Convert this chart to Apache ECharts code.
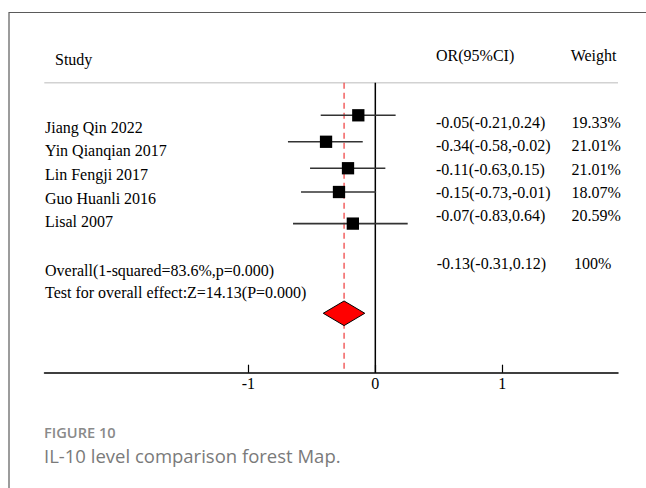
<!DOCTYPE html>
<html>
<head>
<meta charset="utf-8">
<script src="https://cdn.jsdelivr.net/npm/echarts@6/dist/echarts.min.js"></script>
<style>
html,body{margin:0;padding:0;background:#fff;}
#c{width:646px;height:488px;}
</style>
</head>
<body>
<div id="c"></div>
<script>
// ---- data ----
var studies = ['Jiang Qin 2022', 'Yin Qianqian 2017', 'Lin Fengji 2017', 'Guo Huanli 2016', 'Lisal 2007'];
var orTexts = ['-0.05(-0.21,0.24)', '-0.34(-0.58,-0.02)', '-0.11(-0.63,0.15)', '-0.15(-0.73,-0.01)', '-0.07(-0.83,0.64)'];
var weights = ['19.33%', '21.01%', '21.01%', '18.07%', '20.59%'];
// plotted positions
var estimates = [-0.134, -0.388, -0.215, -0.286, -0.177];
var ciLow = [-0.43, -0.688, -0.514, -0.585, -0.648];
var ciHigh = [0.16, -0.099, 0.079, 0.006, 0.255];
var overallEst = -0.246, overallLow = -0.41, overallHigh = -0.083;
var overallText = 'Overall(1-squared=83.6%,p=0.000)';
var testText = 'Test for overall effect:Z=14.13(P=0.000)';
var overallOR = '-0.13(-0.31,0.12)';
var overallWeight = '100%';
var xTicks = [-1, 0, 1];
var headers = ['Study', 'OR(95%CI)', 'Weight'];
var figLabel = 'FIGURE 10';
var caption = 'IL-10 level comparison forest Map.';

// ---- layout ----
var rowPos = [1, 1.98, 2.96, 3.84, 5.01];
var diamondRow = 8.33;
var yMin = -0.207, yMax = 10.53;
var serif = 'Liberation Serif, "Times New Roman", serif';

var chart = echarts.init(document.getElementById('c'), null, {renderer: 'svg'});

var studyData = studies.map(function (s, i) { return [estimates[i], rowPos[i], ciLow[i], ciHigh[i]]; });

var graphics = [];
function txt(t, x, y, opt) {
  opt = opt || {};
  graphics.push({
    type: 'text', silent: true,
    style: {
      text: t, x: x, y: y,
      fill: opt.fill || '#000',
      font: opt.font || ('16px ' + serif),
      textAlign: 'left', textVerticalAlign: 'middle'
    }
  });
}
// frame
graphics.push({type: 'line', shape: {x1: 9, y1: 12.5, x2: 646, y2: 12.5}, style: {stroke: '#5a5a5a', lineWidth: 1.2}});
graphics.push({type: 'line', shape: {x1: 9, y1: 12, x2: 9, y2: 488}, style: {stroke: '#5a5a5a', lineWidth: 1.2}});
// header rule
graphics.push({type: 'line', shape: {x1: 44.3, y1: 82.7, x2: 618, y2: 82.7}, style: {stroke: '#d2d2d2', lineWidth: 1.5}});
txt(headers[0], 55, 59);
txt(headers[1], 436, 55);
txt(headers[2], 570.7, 55);
studies.forEach(function (s, i) {
  txt(s, 45, 127.3 + i * 23.6);
  txt(orTexts[i], 436, 122.3 + i * 23.4);
  txt(weights[i], 571.5, 122.3 + i * 23.4);
});
txt(overallText, 45, 270.7);
txt(testText, 45, 292.7);
txt(overallOR, 436.7, 263.3);
txt(overallWeight, 574, 263.3);
txt(figLabel, 44, 431.7, {font: '600 14.6px "Open Sans", sans-serif', fill: '#8a8a8a'});
txt(caption, 44, 455, {font: '18.5px "Open Sans", sans-serif', fill: '#7a7a7a'});

function vline(api, x, color, dash, width) {
  var a = api.coord([x, yMin]);
  var b = api.coord([x, yMax]);
  return {type: 'line', shape: {x1: a[0], y1: a[1], x2: b[0], y2: b[1]},
          style: {stroke: color, lineWidth: width, lineDash: dash}};
}

var option = {
  animation: false,
  grid: {left: 44.5, right: 28, top: 82.7, bottom: 115.3},
  xAxis: {
    type: 'value', min: -2.605, max: 1.911, position: 'bottom',
    splitLine: {show: false},
    axisLine: {show: true, onZero: false, lineStyle: {color: '#000', width: 1.5}},
    axisTick: {show: true, inside: true, length: 8, customValues: xTicks, lineStyle: {color: '#000', width: 1.2}},
    axisLabel: {show: true, customValues: xTicks, margin: 3, color: '#000', fontFamily: serif, fontSize: 16}
  },
  yAxis: {
    type: 'value', min: yMin, max: yMax, inverse: true, show: false
  },
  graphic: graphics,
  series: [
    {
      // reference lines: null line and overall estimate
      type: 'custom',
      data: [[0, overallEst]],
      z: 3,
      renderItem: function (params, api) {
        return {
          type: 'group',
          children: [
            vline(api, api.value(0), '#000', null, 1.5),
            vline(api, api.value(1), '#f04848', [6, 4], 1.3)
          ]
        };
      }
    },
    {
      type: 'custom',
      data: studyData,
      z: 5,
      renderItem: function (params, api) {
        var y = api.value(1);
        var c = api.coord([api.value(0), y]);
        var l = api.coord([api.value(2), y]);
        var h = api.coord([api.value(3), y]);
        var sz = 12.3;
        return {
          type: 'group',
          children: [
            {type: 'line', shape: {x1: l[0], y1: c[1], x2: h[0], y2: c[1]}, style: {stroke: '#333', lineWidth: 1.6}},
            {type: 'rect', shape: {x: c[0] - sz / 2, y: c[1] - sz / 2, width: sz, height: sz}, style: {fill: '#000'}}
          ]
        };
      }
    },
    {
      type: 'custom',
      data: [[overallEst, diamondRow, overallLow, overallHigh]],
      z: 6,
      renderItem: function (params, api) {
        var y = api.value(1);
        var c = api.coord([api.value(0), y]);
        var l = api.coord([api.value(2), y]);
        var h = api.coord([api.value(3), y]);
        var hh = 12.3;
        return {
          type: 'polygon',
          shape: {points: [[l[0], c[1]], [c[0], c[1] - hh], [h[0], c[1]], [c[0], c[1] + hh]]},
          style: {fill: '#ff0000', stroke: '#000', lineWidth: 1}
        };
      }
    }
  ]
};
chart.setOption(option);
</script>
</body>
</html>
